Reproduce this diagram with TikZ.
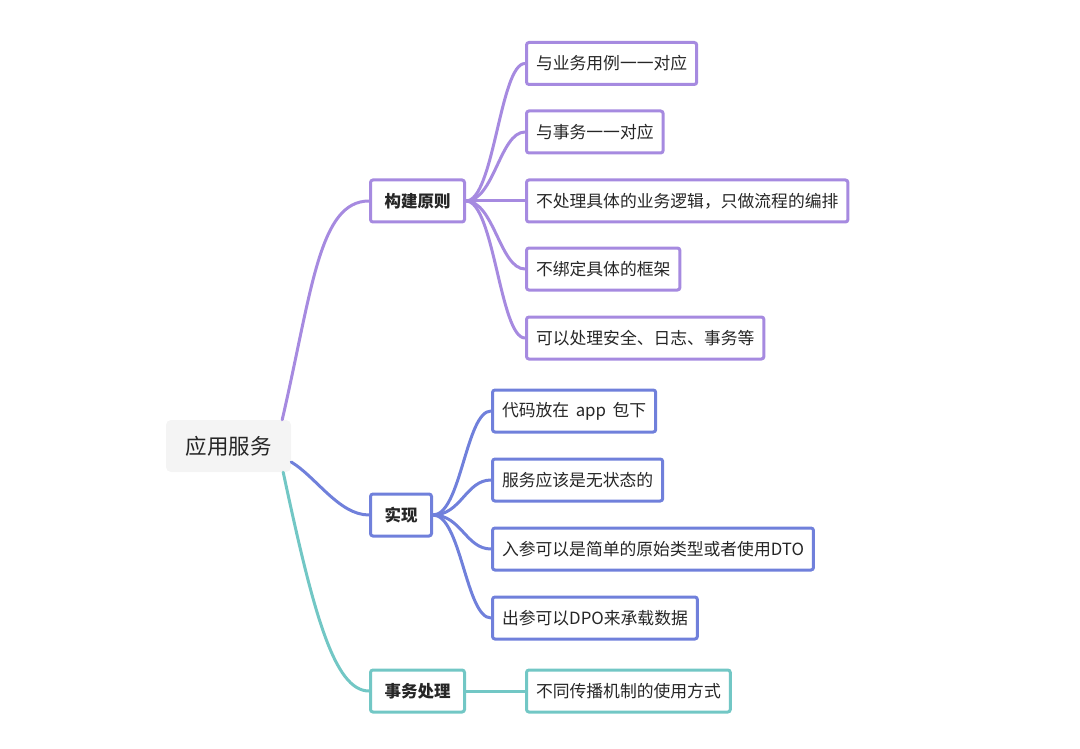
\documentclass[tikz,border=0pt]{standalone}
\usepackage{fontspec}
\setmainfont{Noto Sans CJK SC}
\definecolor{cpurple}{HTML}{A68AE0}
\definecolor{cblue}{HTML}{7080DB}
\definecolor{cteal}{HTML}{72C7C5}
\definecolor{rootfill}{HTML}{F4F4F4}
\definecolor{txt}{HTML}{262626}
\begin{document}
\begin{tikzpicture}[x=1pt,y=-1pt,
  leaf/.style={draw, line width=3pt, fill=white, rounded corners=2.5pt, anchor=west,
    minimum height=42pt, inner xsep=9.5pt, text=txt, font=\fontsize{16.8}{18}\selectfont},
  branch/.style={leaf, inner xsep=14pt, font=\fontsize{16.5}{18}\selectfont\bfseries},
  rootbox/.style={fill=rootfill, rounded corners=5pt, minimum width=125pt, minimum height=52pt,
    text=txt, font=\fontsize{21.5}{24}\selectfont, anchor=center},
  link/.style={line width=3pt, line cap=round}]
\useasboundingbox (0,0) rectangle (1080,749);
% root
\node[rootbox] (root) at (228.5,446) {应用服务};
% branches
\node[branch, draw=cpurple] (b1) at (369,201) {构建原则};
\node[branch, draw=cblue] (b2) at (369,515) {实现};
\node[branch, draw=cteal] (b3) at (369,691) {事务处理};
% purple leaves
\node[leaf, draw=cpurple] (p1) at (525,63.5) {与业务用例一一对应};
\node[leaf, draw=cpurple] (p2) at (525,132) {与事务一一对应};
\node[leaf, draw=cpurple] (p3) at (525,201) {不处理具体的业务逻辑，只做流程的编排};
\node[leaf, draw=cpurple] (p4) at (525,269) {不绑定具体的框架};
\node[leaf, draw=cpurple] (p5) at (525,338) {可以处理安全、日志、事务等};
% blue leaves
\node[leaf, draw=cblue] (q1) at (491,411) {代码放在\ \,app\ \,包下};
\node[leaf, draw=cblue] (q2) at (491,480) {服务应该是无状态的};
\node[leaf, draw=cblue] (q3) at (491,549) {入参可以是简单的原始类型或者使用DTO};
\node[leaf, draw=cblue] (q4) at (491,618) {出参可以DPO来承载数据};
% teal leaf
\node[leaf, draw=cteal] (t1) at (525,691) {不同传播机制的使用方式};
% root anchors
\coordinate (rp) at ([xshift=-9pt]root.north east);
\coordinate (rb) at ([yshift=-16pt]root.east);
\coordinate (rt) at ([xshift=-8pt]root.south east);
% root connectors
\draw[link, cpurple] (rp) .. controls +(30,-130) and +(-50,0) .. (b1.west);
\draw[link, cblue] (rb) .. controls +(25,15) and +(-30,0) .. (b2.west);
\draw[link, cteal] (rt) .. controls +(30,140) and +(-35,0) .. (b3.west);
% branch fans
\foreach \l in {p1,p2,p3,p4,p5}
  \draw[link, cpurple] (b1.east) .. controls +(28,0) and +(-25,0) .. (\l.west);
\foreach \l in {q1,q2,q3,q4}
  \draw[link, cblue] (b2.east) .. controls +(28,0) and +(-25,0) .. (\l.west);
\draw[link, cteal] (b3.east) -- (t1.west);
\end{tikzpicture}
\end{document}
